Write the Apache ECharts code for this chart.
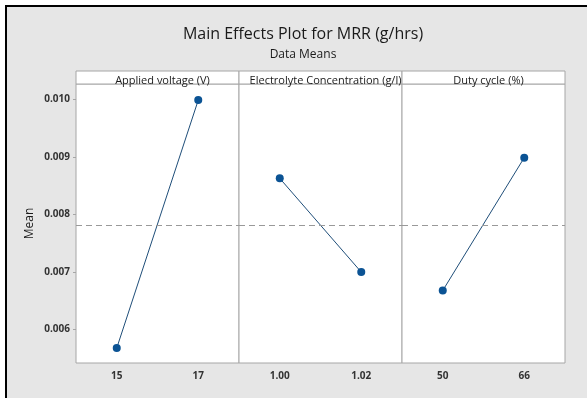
<!DOCTYPE html>
<html>
<head>
<meta charset="utf-8">
<script src="https://cdn.jsdelivr.net/npm/echarts@6/dist/echarts.min.js"></script>
<style>
    html, body { margin: 0; padding: 0; background: #fff; }
    #mainChart { width: 587px; height: 398px; }
</style>
</head>
<body>
<div id="mainChart"></div>
<script>
// factor names and levels
var factors = ['Applied voltage (V)', 'Electrolyte Concentration (g/l)', 'Duty cycle (%)'];
var voltageLevels = ['15', '17'];
var concLevels = ['1.00', '1.02'];
var dutyLevels = ['50', '66'];

// data means for MRR (g/hrs)
var voltageMeans = [0.00568, 0.00999];
var concMeans = [0.00863, 0.00700];
var dutyMeans = [0.00668, 0.00899];
var grandMean = 0.00782;

var yTicks = [0.006, 0.007, 0.008, 0.009, 0.010];

var chart = echarts.init(document.getElementById('mainChart'));

var levels = [voltageLevels, concLevels, dutyLevels];
var means = [voltageMeans, concMeans, dutyMeans];
var panelLeft = [76, 239, 402];
var panelWidth = 163;
var font = '"Open Sans", "Noto Sans", sans-serif';

var grids = [], xAxes = [], yAxes = [], series = [], titles = [], graphics = [];

graphics.push({
    type: 'rect', z: -10,
    shape: { x: 6, y: 6, width: 600, height: 400 },
    style: { fill: '#e6e6e6', stroke: '#000', lineWidth: 2 }
});

titles.push({
    text: 'Main Effects Plot for MRR (g/hrs)',
    subtext: 'Data Means',
    left: 298, top: 21, textAlign: 'center', itemGap: 7,
    textStyle: { fontFamily: font, fontSize: 16, fontWeight: 'normal', color: '#1a1a1a' },
    subtextStyle: { fontFamily: font, fontSize: 12, color: '#1a1a1a' }
});

for (var i = 0; i < 3; i++) {
    grids.push({
        left: panelLeft[i], width: panelWidth, top: 84, bottom: 35,
        show: true, backgroundColor: '#fff', borderColor: '#a6a6a6', borderWidth: 1
    });
    graphics.push({
        type: 'rect', z: 1,
        shape: { x: panelLeft[i], y: 71, width: panelWidth, height: 13 },
        style: { fill: '#fff', stroke: '#a6a6a6', lineWidth: 1 }
    });
    titles.push({
        text: factors[i],
        left: panelLeft[i] + panelWidth / 2, top: 70, textAlign: 'center',
        textStyle: { fontFamily: font, fontSize: 11, fontWeight: 'normal', color: '#1a1a1a' }
    });
    xAxes.push({
        type: 'category', gridIndex: i, data: levels[i], boundaryGap: true,
        axisLine: { show: false },
        axisTick: { alignWithLabel: true, length: 3, lineStyle: { color: '#a6a6a6' } },
        axisLabel: { margin: 8, fontFamily: font, fontSize: 10, fontWeight: 'bold', color: '#333' },
        splitLine: { show: false }
    });
    yAxes.push({
        type: 'value', gridIndex: i, min: 0.00542, max: 0.01027,
        name: i === 0 ? 'Mean' : '', nameLocation: 'middle', nameGap: 40, nameRotate: 90,
        nameTextStyle: { fontFamily: font, fontSize: 12, color: '#1a1a1a' },
        axisLine: { show: false },
        axisTick: { show: i === 0, length: 3, customValues: yTicks, lineStyle: { color: '#a6a6a6' } },
        axisLabel: {
            show: i === 0, customValues: yTicks, margin: 6,
            fontFamily: font, fontSize: 10, fontWeight: 'bold', color: '#333',
            formatter: function (v) { return v.toFixed(3); }
        },
        splitLine: { show: false }
    });
    series.push({
        type: 'line', xAxisIndex: i, yAxisIndex: i, data: means[i],
        symbol: 'circle', symbolSize: 8,
        itemStyle: { color: '#0b5394' },
        lineStyle: { color: '#1f4e79', width: 1 },
        markLine: {
            silent: true, symbol: 'none', precision: 6, label: { show: false },
            lineStyle: { color: '#999', type: [6, 4], width: 1 },
            data: [{ yAxis: grandMean }]
        },
        animation: false
    });
}

var option = {
    backgroundColor: '#fff',
    animation: false,
    title: titles,
    grid: grids,
    xAxis: xAxes,
    yAxis: yAxes,
    series: series,
    graphic: graphics
};

chart.setOption(option);
window.addEventListener('resize', function () {
    chart.resize();
});
</script>
</body>
</html>
